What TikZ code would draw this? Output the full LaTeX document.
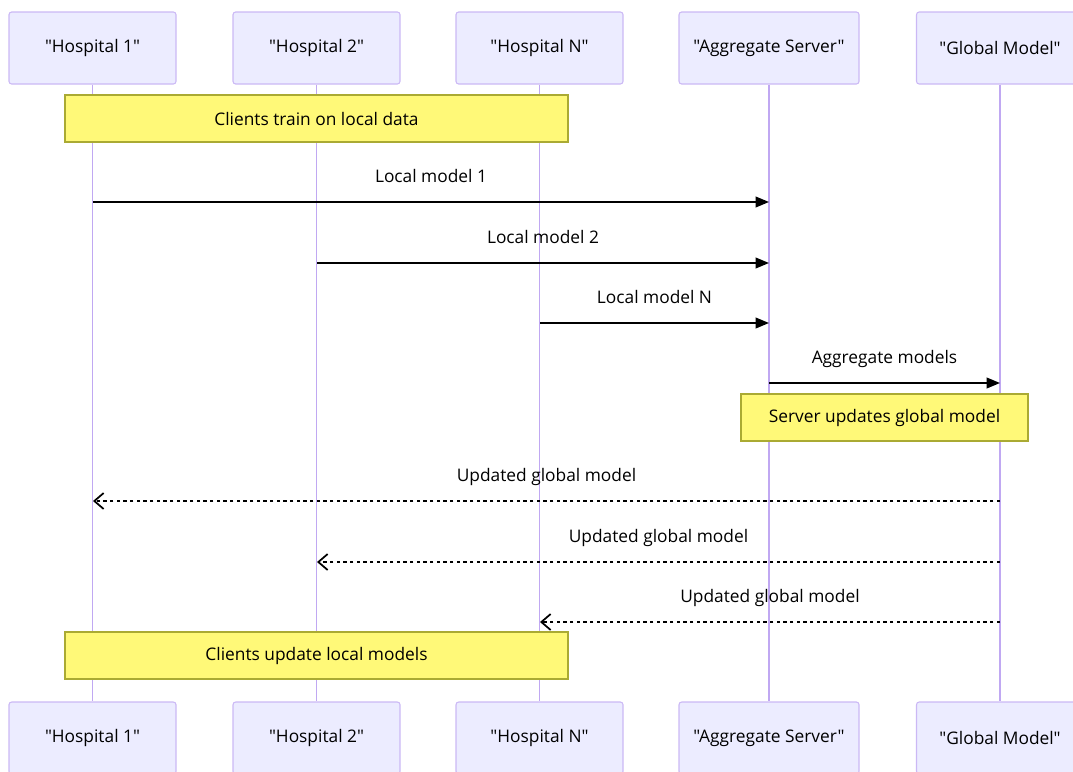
\documentclass[tikz,border=0pt]{standalone}
\usepackage{fontspec}
\setmainfont{Open Sans}[Ligatures=TeXOff]
\usetikzlibrary{arrows.meta}
\definecolor{actorfill}{HTML}{ECECFF}
\definecolor{actorline}{HTML}{CBB8F5}
\definecolor{lifeline}{HTML}{C0A8F2}
\definecolor{notefill}{HTML}{FFF978}
\definecolor{noteline}{HTML}{AAAA33}
\begin{document}
\begin{tikzpicture}[x=0.75pt,y=-0.75pt,
    actor/.style={draw=actorline,fill=actorfill,rounded corners=2pt,line width=0.8pt,
        minimum width=125.25pt,minimum height=54pt,font=\fontsize{13}{15}\selectfont},
    note/.style={draw=noteline,fill=notefill,line width=0.8pt,minimum height=35.25pt,
        font=\fontsize{13}{15}\selectfont},
    life/.style={draw=lifeline,line width=1.1pt},
    msg/.style={line width=1.3pt,-{Triangle[length=10pt,width=8pt]}},
    reply/.style={line width=1.3pt,dash pattern=on 2.5pt off 2.5pt,
        -{Straight Barb[length=7pt,width=12pt,line width=1.3pt]}},
    lbl/.style={anchor=base,yshift=15pt,font=\fontsize{13}{15}\selectfont}]
    \useasboundingbox (0,0) rectangle (1073,771);

    % participants, top and bottom
    \node[actor] (h1) at (92.5,48) {"Hospital 1"};
    \node[actor] (h2) at (316.5,48) {"Hospital 2"};
    \node[actor] (hn) at (539.5,48) {"Hospital N"};
    \node[actor,minimum width=135pt] (srv) at (769,48) {"Aggregate Server"};
    \node[actor] (glob) at (1000,48) {"Global Model"};
    \node[actor] (h1b) at (92.5,738) {"Hospital 1"};
    \node[actor] (h2b) at (316.5,738) {"Hospital 2"};
    \node[actor] (hnb) at (539.5,738) {"Hospital N"};
    \node[actor,minimum width=135pt] (srvb) at (769,738) {"Aggregate Server"};
    \node[actor] (globb) at (1000,738) {"Global Model"};

    % lifelines
    \draw[life] (h1) -- (h1b);
    \draw[life] (h2) -- (h2b);
    \draw[life] (hn) -- (hnb);
    \draw[life] (srv) -- (srvb);
    \draw[life] (glob) -- (globb);

    % notes
    \node[note,minimum width=377.25pt] (train) at (316.5,118.5) {Clients train on local data};
    \node[note,minimum width=215.25pt] (upd) at (884.5,417.5) {Server updates global model};
    \node[note,minimum width=377.25pt] (local) at (316.5,655.5) {Clients update local models};

    % points on the lifelines
    \coordinate (h1a) at (93,202);   \coordinate (srva) at (769,202);
    \coordinate (h2a) at (317,263);  \coordinate (srvc) at (769,263);
    \coordinate (hna) at (540,323);  \coordinate (srvd) at (769,323);
    \coordinate (srve) at (769,383); \coordinate (globa) at (1000,383);
    \coordinate (globc) at (1000,501); \coordinate (h1c) at (93,501);
    \coordinate (globd) at (1000,562); \coordinate (h2c) at (317,562);
    \coordinate (globe) at (1000,622); \coordinate (hnc) at (540,622);

    % messages
    \draw[msg] (h1a) -- node[lbl] {Local model 1} (srva);
    \draw[msg] (h2a) -- node[lbl] {Local model 2} (srvc);
    \draw[msg] (hna) -- node[lbl] {Local model N} (srvd);
    \draw[msg] (srve) -- node[lbl] {Aggregate models} (globa);
    \draw[reply] (globc) -- node[lbl] {Updated global model} (h1c);
    \draw[reply] (globd) -- node[lbl] {Updated global model} (h2c);
    \draw[reply] (globe) -- node[lbl] {Updated global model} (hnc);
\end{tikzpicture}
\end{document}
